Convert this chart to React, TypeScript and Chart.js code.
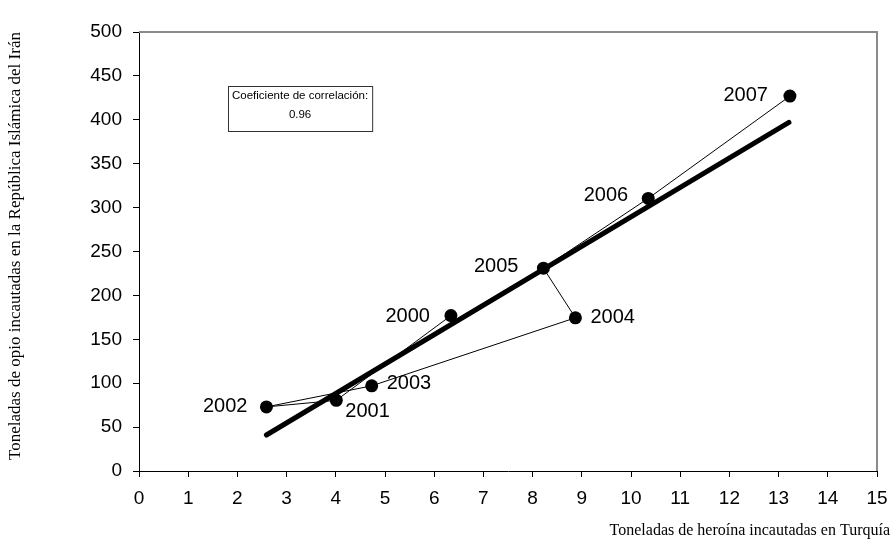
import React, { useEffect, useRef } from "react";
import { Chart, registerables } from "chart.js";

Chart.register(...registerables);

// ---- data ----
const years = ["2000", "2001", "2002", "2003", "2004", "2005", "2006", "2007"];
const heroinTons = [6.34, 4.01, 2.59, 4.73, 8.87, 8.22, 10.35, 13.23];
const opiumTons = [177, 80.5, 73, 97, 174.5, 231, 310.5, 427];
const trendX = [2.59, 13.21];
const trendY = [41, 397];
const xMin = 0;
const xMax = 15;
const xStep = 1;
const yMin = 0;
const yMax = 500;
const yStep = 50;
const correlationTitle = "Coeficiente de correlación:";
const correlationValue = "0.96";
const xAxisTitle = "Toneladas de heroína incautadas en Turquía";
const yAxisTitle = "Toneladas de opio incautadas en la República Islámica del Irán";

// ---- label placement (style, not data) ----
const labelPlacement = [
  { dx: -21, dy: 1, align: "right" },
  { dx: 9, dy: 11, align: "left" },
  { dx: -19, dy: 0, align: "right" },
  { dx: 15, dy: -2, align: "left" },
  { dx: 15, dy: 0, align: "left" },
  { dx: -25, dy: -2, align: "right" },
  { dx: -20, dy: -3, align: "right" },
  { dx: -22, dy: -1, align: "right" },
];

const SANS = '"Liberation Sans", Arial, sans-serif';
const SERIF = '"Liberation Serif", "Times New Roman", serif';

const overlayPlugin = {
  id: "overlay",
  afterDatasetsDraw(chart: any) {
    const { ctx, chartArea, scales } = chart;
    const x = scales.x;
    const y = scales.y;
    ctx.save();
    // gray frame top/right
    ctx.strokeStyle = "#8a8a8a";
    ctx.lineWidth = 2;
    ctx.beginPath();
    ctx.moveTo(chartArea.left, chartArea.top);
    ctx.lineTo(chartArea.right, chartArea.top);
    ctx.lineTo(chartArea.right, chartArea.bottom);
    ctx.stroke();

    // point labels
    ctx.fillStyle = "#000";
    ctx.font = `20px ${SANS}`;
    ctx.textBaseline = "middle";
    years.forEach((yr, i) => {
      const px = x.getPixelForValue(heroinTons[i]);
      const py = y.getPixelForValue(opiumTons[i]);
      const p = labelPlacement[i];
      ctx.textAlign = p.align;
      ctx.fillText(yr, px + p.dx, py + p.dy);
    });

    // correlation box
    ctx.font = `11.5px ${SANS}`;
    const tw = ctx.measureText(correlationTitle).width;
    const bx = chartArea.left + 89;
    const by = chartArea.top + 54;
    const bw = tw + 8;
    const bh = 45;
    ctx.fillStyle = "#fff";
    ctx.fillRect(bx, by, bw, bh);
    ctx.strokeStyle = "#333";
    ctx.lineWidth = 1;
    ctx.strokeRect(bx + 0.5, by + 0.5, bw, bh);
    ctx.fillStyle = "#000";
    ctx.textAlign = "center";
    ctx.fillText(correlationTitle, bx + bw / 2, by + 10);
    ctx.fillText(correlationValue, bx + bw / 2, by + 29);

    // axis titles
    ctx.font = `16px ${SERIF}`;
    ctx.textAlign = "right";
    ctx.textBaseline = "middle";
    ctx.fillText(xAxisTitle, 890, 531);
    ctx.save();
    ctx.font = `17px ${SERIF}`;
    ctx.translate(16, 246);
    ctx.rotate(-Math.PI / 2);
    ctx.textAlign = "center";
    ctx.fillText(yAxisTitle, 0, 0);
    ctx.restore();
    ctx.restore();
  },
};

export default function App() {
  const canvasRef = useRef<HTMLCanvasElement | null>(null);

  useEffect(() => {
    if (!canvasRef.current) return;
    const chart = new Chart(canvasRef.current, {
      type: "scatter",
      data: {
        datasets: [
          {
            label: "Incautaciones",
            data: heroinTons.map((v, i) => ({ x: v, y: opiumTons[i] })),
            showLine: true,
            borderColor: "#000",
            borderWidth: 1,
            backgroundColor: "#000",
            pointBackgroundColor: "#000",
            pointBorderColor: "#000",
            pointRadius: 6.5,
            pointBorderWidth: 0,
            order: 1,
          },
          {
            label: "Tendencia",
            data: trendX.map((v, i) => ({ x: v, y: trendY[i] })),
            showLine: true,
            borderColor: "#000",
            borderWidth: 5,
            borderCapStyle: "round",
            pointRadius: 0,
            order: 2,
          },
        ],
      },
      options: {
        animation: false,
        responsive: true,
        maintainAspectRatio: false,
        layout: { padding: { left: 0, top: 32, right: 16, bottom: 0 } },
        plugins: {
          legend: { display: false },
          tooltip: { enabled: false },
        },
        scales: {
          x: {
            type: "linear",
            min: xMin,
            max: xMax,
            afterFit: (s: any) => {
              s.height = 74;
              s.paddingLeft = 0;
              s.paddingRight = 0;
            },
            ticks: {
              stepSize: xStep,
              color: "#000",
              font: { family: SANS, size: 19 },
              padding: 10,
            },
            grid: {
              drawOnChartArea: false,
              drawTicks: true,
              tickLength: 6,
              color: "#000",
            },
            border: { display: true, color: "#000", width: 1 },
          },
          y: {
            type: "linear",
            min: yMin,
            max: yMax,
            afterFit: (s: any) => {
              s.width = 139;
              s.paddingTop = 0;
              s.paddingBottom = 0;
            },
            ticks: {
              stepSize: yStep,
              color: "#000",
              font: { family: SANS, size: 19 },
              padding: 11,
            },
            grid: {
              drawOnChartArea: false,
              drawTicks: true,
              tickLength: 6,
              color: "#000",
            },
            border: { display: true, color: "#000", width: 1 },
          },
        },
      },
      plugins: [overlayPlugin],
    } as any);
    return () => chart.destroy();
  }, []);

  return (
    <div style={{ position: "fixed", left: 0, top: 0, width: 893, height: 545, background: "#fff" }}>
      <canvas ref={canvasRef} />
    </div>
  );
}
